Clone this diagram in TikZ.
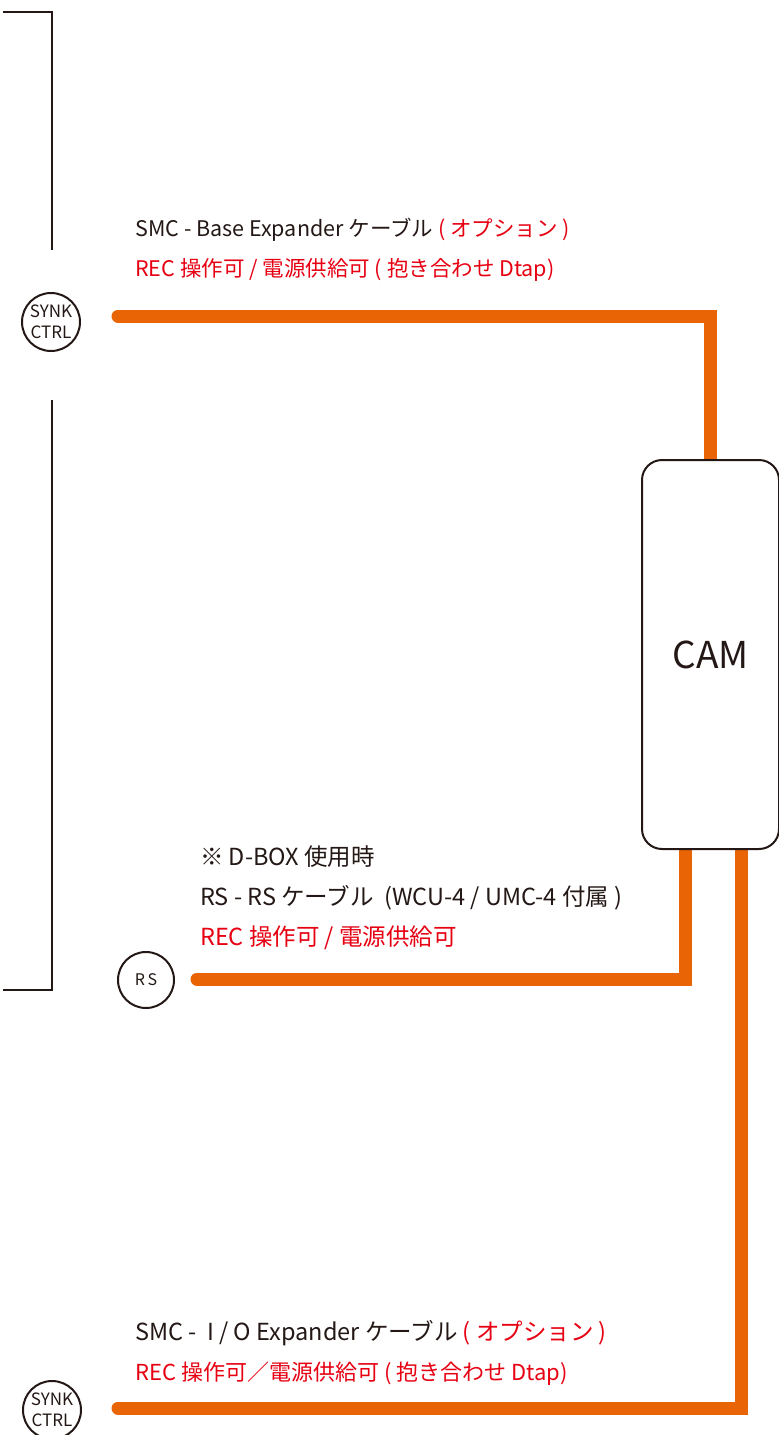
\documentclass[tikz,border=0pt]{standalone}
\usepackage{fontspec}
\setmainfont{Noto Sans CJK JP}
\usetikzlibrary{positioning,backgrounds}
\definecolor{cableorange}{RGB}{233,100,5}
\definecolor{notered}{RGB}{230,0,18}
\definecolor{inkdark}{RGB}{35,24,21}

\begin{document}
\begin{tikzpicture}[%
x=1pt, y=-1pt,
node distance=40pt,
on grid,
cable/.style={line width=13pt, cableorange, line cap=round, line join=miter},
bracket/.style={line width=2pt, inkdark},
port/.style={circle, draw=inkdark, line width=2pt, minimum size=58pt, inner sep=0pt, align=center, text=inkdark, font=\fontsize{17}{21}\selectfont},
caption/.style={inner sep=0pt, text=inkdark, font=\fontsize{21.5}{24}\selectfont},
bigcaption/.style={caption, font=\fontsize{23.5}{26}\selectfont}
]
\useasboundingbox (0,0) rectangle (779,1435);

% camera body
\node[draw=inkdark, line width=2pt, fill=white, rounded corners=20pt, minimum width=137pt, minimum height=389pt, font=\fontsize{37}{40}\selectfont, text=inkdark] (cam) at (710.5,654.5) {CAM};

% ports
\node[port] (sync1) at (51,322) {SYNK\\CTRL};
\node[port, minimum size=56pt, font=\fontsize{16}{19}\selectfont] (rs) at (146,980) {R\,S};
\node[port] (sync2) at (52,1410) {SYNK\\CTRL};

% side bracket
\draw[bracket] (3,12) -| (52,250);
\draw[bracket] (52,400) |- (3,990);

% captions
\node[caption, anchor=base west] (smc1) at (135,236) {SMC - Base Expander ケーブル {\color{notered}( オプション )}};
\node[caption, below=of smc1.base west, anchor=base west, text=notered] (rec1) {REC 操作可 / 電源供給可 ( 抱き合わせ Dtap)};

\node[bigcaption, anchor=base west] (dbox) at (200,865) {※ D-BOX 使用時};
\node[bigcaption, below=of dbox.base west, anchor=base west] (rsrs) {RS - RS ケーブル\ \ (WCU-4 / UMC-4 付属 )};
\node[bigcaption, below=of rsrs.base west, anchor=base west, text=notered] (rec2) {REC 操作可 / 電源供給可};

\node[bigcaption, anchor=base west] (smc2) at (135,1340) {SMC -\ \ I / O Expander ケーブル {\color{notered}( オプション )}};
\node[caption, below=of smc2.base west, anchor=base west, text=notered, font=\fontsize{22}{24}\selectfont] (rec3) {REC 操作可／電源供給可 ( 抱き合わせ Dtap)};

% cables
\coordinate (end1) at (118,316);
\coordinate (end2) at (197,979);
\coordinate (end3) at (118,1408);
\begin{scope}[on background layer]
\draw[cable] (end1) -| (cam.north);
\draw[cable] (end2) -| ([xshift=-25.5pt]cam.south);
\draw[cable] (end3) -| ([xshift=30.5pt]cam.south);
\end{scope}

\end{tikzpicture}
\end{document}
